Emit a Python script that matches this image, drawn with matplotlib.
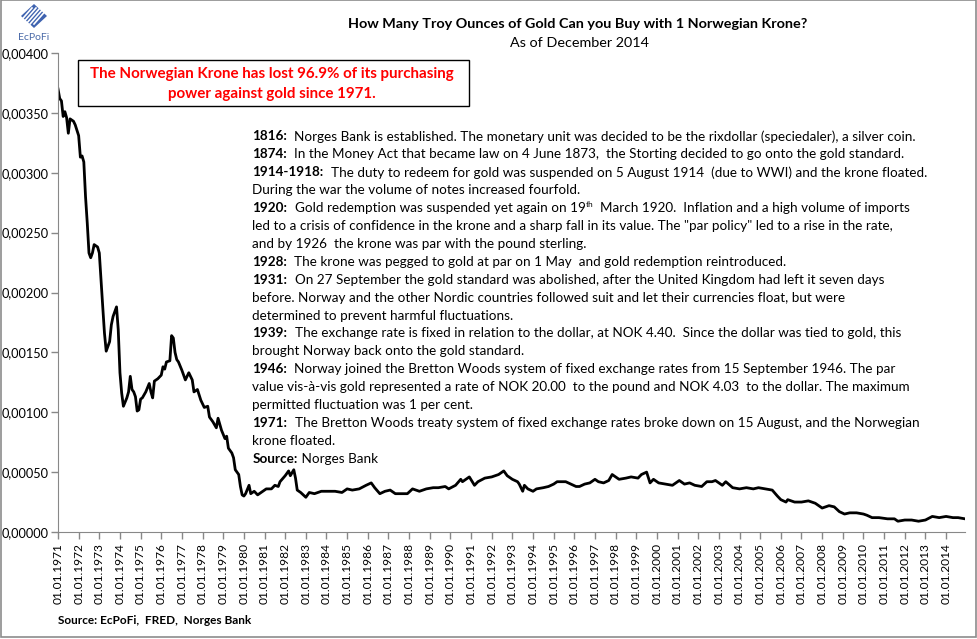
import matplotlib
matplotlib.use("Agg")
import matplotlib.pyplot as plt
from matplotlib.patches import Rectangle, Polygon
from matplotlib.ticker import FuncFormatter, MultipleLocator

plt.rcParams['font.family'] = ['Lato', 'DejaVu Sans']

# Troy ounces of gold per 1 NOK (YYYY-MM)
dates = [
    "1971-01", "1971-02", "1971-03", "1971-04", "1971-05", "1971-06", "1971-07", "1971-08",
    "1971-10", "1971-11", "1972-01", "1972-02", "1972-03", "1972-04", "1972-05", "1972-06",
    "1972-07", "1972-08", "1972-09", "1972-10", "1972-12", "1973-01", "1973-02", "1973-03",
    "1973-04", "1973-05", "1973-07", "1973-08", "1973-09", "1973-11", "1973-12", "1974-01",
    "1974-02", "1974-03", "1974-05", "1974-06", "1974-07", "1974-08", "1974-09", "1974-10",
    "1974-11", "1974-12", "1975-01", "1975-02", "1975-04", "1975-06", "1975-07", "1975-08",
    "1975-09", "1975-11", "1976-01", "1976-02", "1976-03", "1976-04", "1976-06", "1976-07",
    "1976-08", "1976-09", "1976-10", "1976-11", "1977-01", "1977-03", "1977-05", "1977-07",
    "1977-08", "1977-10", "1977-12", "1978-02", "1978-04", "1978-05", "1978-07", "1978-09",
    "1978-10", "1978-12", "1979-02", "1979-03", "1979-04", "1979-06", "1979-07", "1979-08",
    "1979-10", "1979-11", "1979-12", "1980-01", "1980-02", "1980-04", "1980-05", "1980-07",
    "1980-09", "1980-11", "1981-02", "1981-05", "1981-07", "1981-09", "1981-10", "1982-01",
    "1982-03", "1982-04", "1982-06", "1982-07", "1982-08", "1982-10", "1983-01", "1983-03",
    "1983-06", "1983-10", "1984-02", "1984-06", "1984-10", "1985-01", "1985-04", "1985-08",
    "1985-12", "1986-03", "1986-05", "1986-08", "1986-11", "1987-02", "1987-05", "1987-09",
    "1987-12", "1988-03", "1988-07", "1988-11", "1989-03", "1989-06", "1989-10", "1989-12",
    "1990-04", "1990-07", "1990-08", "1990-12", "1991-03", "1991-05", "1991-09", "1992-01",
    "1992-05", "1992-08", "1992-10", "1993-01", "1993-04", "1993-05", "1993-07", "1993-08",
    "1993-10", "1994-01", "1994-03", "1994-07", "1994-10", "1995-01", "1995-03", "1995-08",
    "1995-11", "1996-02", "1996-04", "1996-07", "1996-10", "1997-01", "1997-03", "1997-06",
    "1997-09", "1997-11", "1998-01", "1998-03", "1998-07", "1998-10", "1999-02", "1999-04",
    "1999-07", "1999-09", "1999-11", "2000-02", "2000-06", "2000-10", "2001-02", "2001-05",
    "2001-08", "2001-11", "2002-03", "2002-06", "2002-09", "2002-11", "2003-03", "2003-05",
    "2003-09", "2004-01", "2004-05", "2004-09", "2004-12", "2005-04", "2005-08", "2005-11",
    "2006-01", "2006-04", "2006-05", "2006-09", "2007-01", "2007-05", "2007-09", "2008-01",
    "2008-05", "2008-08", "2008-11", "2009-02", "2009-05", "2009-09", "2010-01", "2010-03",
    "2010-06", "2010-10", "2011-03", "2011-07", "2011-09", "2012-01", "2012-05", "2012-09",
    "2013-01", "2013-05", "2013-09", "2014-01", "2014-05", "2014-08", "2014-12",
]
oz_per_nok = [
    0.00370, 0.00362, 0.00360, 0.00347, 0.00351, 0.00346, 0.00333, 0.00345,
    0.00343, 0.00340, 0.00331, 0.00313, 0.00314, 0.00309, 0.00280, 0.00258,
    0.00233, 0.00229, 0.00233, 0.00240, 0.00238, 0.00233, 0.00210, 0.00188,
    0.00166, 0.00151, 0.00159, 0.00173, 0.00180, 0.00188, 0.00169, 0.00133,
    0.00116, 0.00105, 0.00112, 0.00117, 0.00130, 0.00119, 0.00117, 0.00113,
    0.00101, 0.00102, 0.00111, 0.00112, 0.00117, 0.00124, 0.00117, 0.00112,
    0.00126, 0.00128, 0.00131, 0.00138, 0.00136, 0.00142, 0.00143, 0.00164,
    0.00162, 0.00150, 0.00144, 0.00142, 0.00135, 0.00127, 0.00133, 0.00127,
    0.00117, 0.00119, 0.00110, 0.00104, 0.00105, 0.00096, 0.00092, 0.00087,
    0.00095, 0.00085, 0.00078, 0.00080, 0.00070, 0.00066, 0.00062, 0.00052,
    0.00048, 0.00038, 0.00031, 0.00030, 0.00032, 0.00039, 0.00032, 0.00034,
    0.00031, 0.00033, 0.00036, 0.00036, 0.00039, 0.00038, 0.00042, 0.00047,
    0.00051, 0.00047, 0.00052, 0.00045, 0.00035, 0.00033, 0.00029, 0.00033,
    0.00032, 0.00034, 0.00034, 0.00034, 0.00033, 0.00036, 0.00035, 0.00036,
    0.00039, 0.00041, 0.00037, 0.00032, 0.00034, 0.00035, 0.00032, 0.00032,
    0.00032, 0.00036, 0.00034, 0.00036, 0.00037, 0.00037, 0.00038, 0.00036,
    0.00039, 0.00044, 0.00042, 0.00046, 0.00039, 0.00042, 0.00045, 0.00046,
    0.00048, 0.00051, 0.00047, 0.00044, 0.00042, 0.00040, 0.00034, 0.00039,
    0.00036, 0.00034, 0.00036, 0.00037, 0.00038, 0.00040, 0.00042, 0.00042,
    0.00040, 0.00038, 0.00038, 0.00040, 0.00041, 0.00044, 0.00042, 0.00041,
    0.00043, 0.00048, 0.00046, 0.00044, 0.00045, 0.00046, 0.00045, 0.00048,
    0.00050, 0.00041, 0.00044, 0.00041, 0.00040, 0.00039, 0.00043, 0.00040,
    0.00041, 0.00039, 0.00038, 0.00042, 0.00042, 0.00043, 0.00039, 0.00042,
    0.00037, 0.00036, 0.00037, 0.00036, 0.00037, 0.00036, 0.00035, 0.00030,
    0.00027, 0.00025, 0.00027, 0.00025, 0.00025, 0.00026, 0.00024, 0.00020,
    0.00022, 0.00021, 0.00017, 0.00015, 0.00016, 0.00016, 0.00015, 0.00014,
    0.00012, 0.00012, 0.00011, 0.00011, 0.00009, 0.00010, 0.00010, 0.00009,
    0.00010, 0.00013, 0.00012, 0.00013, 0.00012, 0.00012, 0.00011,
]
tick_years = list(range(1971, 2015))
tick_labels = [f"01.01.{y}" for y in tick_years]

title = "How Many Troy Ounces of Gold Can you Buy with 1 Norwegian Krone?"
subtitle = "As of December 2014"
callout = ["The Norwegian Krone has lost 96.9% of its purchasing",
           "power against gold since 1971."]
source = "Source: EcPoFi,  FRED,  Norges Bank"

# history notes: each line is a list of (text, style) pieces
notes = [
    [("1816:", "b"), ("  Norges Bank is established. The monetary unit was decided to be the rixdollar (speciedaler), a silver coin.", "n")],
    [("1874:", "b"), ("  In the Money Act that became law on 4 June 1873,  the Storting decided to go onto the gold standard.", "n")],
    [("1914-1918:", "b"), ("  The duty to redeem for gold was suspended on 5 August 1914  (due to WWI) and the krone floated.", "n")],
    [("During the war the volume of notes increased fourfold.", "n")],
    [("1920:", "b"), ("  Gold redemption was suspended yet again on 19", "n"), ("th", "sup"), ("  March 1920.  Inflation and a high volume of imports", "n")],
    [("led to a crisis of confidence in the krone and a sharp fall in its value. The \"par policy\" led to a rise in the rate,", "n")],
    [("and by 1926  the krone was par with the pound sterling.", "n")],
    [("1928:", "b"), ("  The krone was pegged to gold at par on 1 May  and gold redemption reintroduced.", "n")],
    [("1931:", "b"), ("  On 27 September the gold standard was abolished, after the United Kingdom had left it seven days", "n")],
    [("before. Norway and the other Nordic countries followed suit and let their currencies float, but were", "n")],
    [("determined to prevent harmful fluctuations.", "n")],
    [("1939:", "b"), ("  The exchange rate is fixed in relation to the dollar, at NOK 4.40.  Since the dollar was tied to gold, this", "n")],
    [("brought Norway back onto the gold standard.", "n")],
    [("1946:", "b"), ("  Norway joined the Bretton Woods system of fixed exchange rates from 15 September 1946. The par", "n")],
    [("value vis-\u00e0-vis gold represented a rate of NOK 20.00  to the pound and NOK 4.03  to the dollar. The maximum", "n")],
    [("permitted fluctuation was 1 per cent.", "n")],
    [("1971:", "b"), ("  The Bretton Woods treaty system of fixed exchange rates broke down on 15 August, and the Norwegian", "n")],
    [("krone floated.", "n")],
    [("Source:", "b"), (" Norges Bank", "n")],
]

W, H = 977, 639
fig = plt.figure(figsize=(W / 100, H / 100), dpi=100)


def fx(x):
    return x / W


def fy(y):
    return 1 - y / H


# chart area border
fig.patches.append(Rectangle((fx(1), fy(637)), fx(975), 1 - 2 / H, transform=fig.transFigure,
                             fill=False, edgecolor="#8c8c8c", lw=1.2))

ax = fig.add_axes([fx(58), fy(532), fx(965) - fx(58), fy(53) - fy(532)])
xs = [int(d[:4]) + (int(d[5:]) - 1) / 12 for d in dates]
ax.plot(xs, oz_per_nok, color="black", lw=2.0, solid_joinstyle="round")

ax.set_xlim(1971, 2014 + 11 / 12)
ax.set_ylim(0, 0.004)
ax.yaxis.set_major_locator(MultipleLocator(0.0005))
ax.yaxis.set_major_formatter(FuncFormatter(lambda v, p: f"{v:.5f}".replace(".", ",")))
ax.set_xticks(tick_years)
ax.set_xticklabels(tick_labels, rotation=90, fontsize=8.6)
for s in ["top", "right"]:
    ax.spines[s].set_visible(False)
for s in ["left", "bottom"]:
    ax.spines[s].set_color("#888888")
ax.tick_params(axis="both", colors="#888888", labelcolor="black", length=5, width=1)
ax.tick_params(axis="y", labelsize=9.2, pad=2)
ax.tick_params(axis="x", pad=3)

fig.text(fx(578), fy(24), title, ha="center", va="center", fontsize=10.4, fontweight="bold")
fig.text(fx(580), fy(43), subtitle, ha="center", va="center", fontsize=10.4)

# red callout box
fig.patches.append(Rectangle((fx(78), fy(106)), fx(469) - fx(78), fy(60) - fy(106),
                             transform=fig.transFigure, fill=False, edgecolor="black", lw=1))
fig.text(fx(272), fy(74), callout[0], ha="center", va="center", fontsize=10.9,
         fontweight="bold", color="#ff0000")
fig.text(fx(272), fy(94), callout[1], ha="center", va="center", fontsize=10.9,
         fontweight="bold", color="#ff0000")

# logo
fig.patches.append(Polygon([(fx(34), fy(4)), (fx(47), fy(16)), (fx(34), fy(28)), (fx(21), fy(16))],
                           closed=True, transform=fig.transFigure, facecolor="#3f63b0", edgecolor="none"))
for k in range(-2, 3):
    fig.lines.append(plt.Line2D([fx(26 + 4 * k), fx(40 + 4 * k)], [fy(24), fy(8)],
                                transform=fig.transFigure, color="white", lw=1.2))
fig.text(fx(34), fy(38), "EcPoFi", ha="center", va="center", fontsize=7.5, color="#4a6aa8")

fig.text(fx(58), fy(621), source, ha="left", va="center", fontsize=8.5, fontweight="bold")

# notes block, drawn piece by piece
renderer = fig.canvas.get_renderer()
note_size = 9.7
y0, dy = 136.5, 17.9
for i, line in enumerate(notes):
    x = 252.5
    y = y0 + i * dy
    for txt, style in line:
        if style == "sup":
            t = fig.text(fx(x), fy(y - 4), txt, fontsize=note_size * 0.62, va="center")
        else:
            t = fig.text(fx(x), fy(y), txt, fontsize=note_size, va="center",
                         fontweight="bold" if style == "b" else "normal")
        x += t.get_window_extent(renderer).width

fig.savefig("out.png", dpi=100)
